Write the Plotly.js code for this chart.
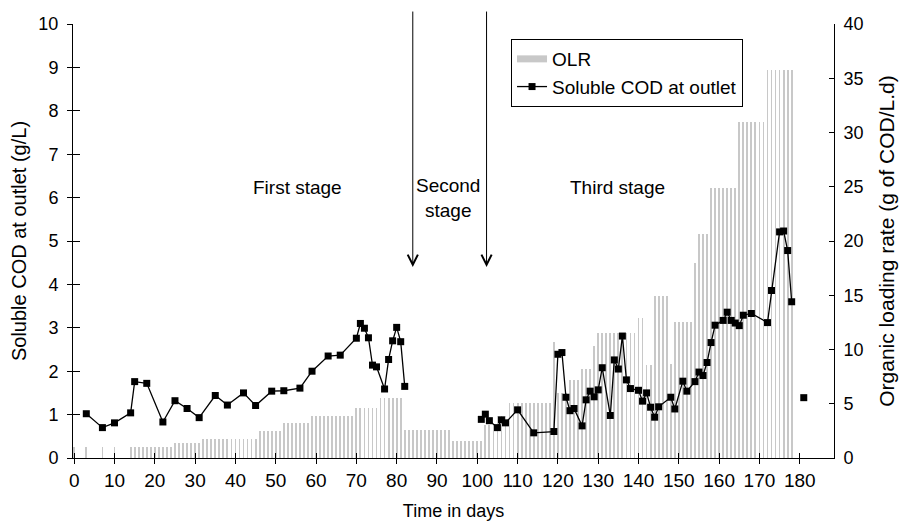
<!DOCTYPE html>
<html><head><meta charset="utf-8">
<script src="https://cdn.plot.ly/plotly-3.0.1.min.js"></script>
<style>html,body{margin:0;padding:0;background:#fff}#chart{width:903px;height:522px}</style>
</head><body><div id="chart"></div>
<script>
// Organic loading rate (g of COD/L.d), one bar per day
const olrDays = [
  0, 3, 7, 10,
  14, 15, 16, 17, 18, 19, 20, 21, 22, 23, 24,
  25, 26, 27, 28, 29, 30, 31,
  32, 33, 34, 35, 36, 37, 38, 39, 40, 41, 42, 43, 44, 45,
  46, 47, 48, 49, 50, 51,
  52, 53, 54, 55, 56, 57, 58,
  59, 60, 61, 62, 63, 64, 65, 66, 67, 68, 69,
  70, 71, 72, 73, 74, 75,
  76, 77, 78, 79, 80, 81,
  82, 83, 84, 85, 86, 87, 88, 89, 90, 91, 92, 93,
  94, 95, 96, 97, 98, 99, 100, 101,
  102, 103, 104,
  105, 106, 107,
  108, 109, 110, 111, 112, 113, 114, 115, 116, 117, 118,
  119,
  120, 121, 122,
  123, 124, 125,
  126, 127, 128,
  129,
  130, 131, 132, 133, 134, 135, 136, 137, 138, 139,
  140, 141,
  142, 143,
  144, 145, 146, 147,
  148,
  149, 150, 151, 152, 153,
  154,
  155, 156, 157,
  158, 159, 160, 161, 162, 163, 164,
  165, 166, 167, 168, 169, 170, 171,
  172, 173, 174, 175, 176, 177, 178
];
const olrRates = [
  1.0, 1.0, 1.0, 1.0,
  1.0, 1.0, 1.0, 1.0, 1.0, 1.0, 1.0, 1.0, 1.0, 1.0, 1.0,
  1.4, 1.4, 1.4, 1.4, 1.4, 1.4, 1.4,
  1.75, 1.75, 1.75, 1.75, 1.75, 1.75, 1.75, 1.75, 1.75, 1.75, 1.75, 1.75, 1.75, 1.75,
  2.5, 2.5, 2.5, 2.5, 2.5, 2.5,
  3.25, 3.25, 3.25, 3.25, 3.25, 3.25, 3.25,
  3.9, 3.9, 3.9, 3.9, 3.9, 3.9, 3.9, 3.9, 3.9, 3.9, 3.9,
  4.6, 4.6, 4.6, 4.6, 4.6, 4.6,
  5.55, 5.55, 5.55, 5.55, 5.55, 5.55,
  2.6, 2.6, 2.6, 2.6, 2.6, 2.6, 2.6, 2.6, 2.6, 2.6, 2.6, 2.6,
  1.55, 1.55, 1.55, 1.55, 1.55, 1.55, 1.55, 1.55,
  3.05, 3.05, 3.05,
  3.85, 3.85, 3.85,
  5.05, 5.05, 5.05, 5.05, 5.05, 5.05, 5.05, 5.05, 5.05, 5.05, 5.05,
  10.7,
  5.95, 5.95, 5.95,
  7.2, 7.2, 7.2,
  8.2, 8.2, 8.2,
  10.3,
  11.55, 11.55, 11.55, 11.55, 11.55, 11.55, 11.55, 11.55, 11.55, 11.55,
  12.9, 12.9,
  8.6, 8.6,
  14.9, 14.9, 14.9, 14.9,
  8.7,
  12.5, 12.5, 12.5, 12.5, 12.5,
  18.0,
  20.6, 20.6, 20.6,
  24.9, 24.9, 24.9, 24.9, 24.9, 24.9, 24.9,
  31.0, 31.0, 31.0, 31.0, 31.0, 31.0, 31.0,
  35.8, 35.8, 35.8, 35.8, 35.8, 35.8, 35.8
];

// Soluble COD at outlet (g/L); null marks a break in the line
const codDays = [
  3, 7, 10, 14, 15, 18, 22, 25, 28, 31,
  35, 38, 42, 45, 49, 52, 56, 59, 63, 66,
  70, 71, 72, 73, 74, 75, 77, 78, 79, 80,
  81, 82,
  90,
  101, 102, 103, 105, 106, 107, 110, 114, 119, 120,
  121, 122, 123, 124, 126, 127, 128, 129, 130, 131,
  133, 134, 135, 136, 137, 138, 140, 141, 142, 143,
  144, 145, 148, 149, 151, 152, 154, 155, 156, 157,
  158, 159, 161, 162, 163, 164, 165, 166, 168, 172,
  173, 175, 176, 177, 178,
  180,
  181
];
const codValues = [
  1.02, 0.70, 0.81, 1.04, 1.76, 1.72, 0.83, 1.32, 1.14, 0.93,
  1.44, 1.22, 1.50, 1.21, 1.54, 1.55, 1.61, 2.00, 2.35, 2.37,
  2.76, 3.10, 2.99, 2.77, 2.14, 2.10, 1.59, 2.27, 2.70, 3.01,
  2.68, 1.65,
  null,
  0.89, 1.01, 0.86, 0.70, 0.88, 0.81, 1.11, 0.58, 0.61, 2.39,
  2.43, 1.40, 1.09, 1.14, 0.74, 1.34, 1.54, 1.41, 1.57, 2.08,
  0.98, 2.26, 2.05, 2.81, 1.80, 1.60, 1.56, 1.31, 1.50, 1.17,
  0.94, 1.18, 1.40, 1.13, 1.77, 1.54, 1.76, 1.98, 1.90, 2.20,
  2.66, 3.06, 3.17, 3.36, 3.17, 3.11, 3.05, 3.29, 3.33, 3.12,
  3.86, 5.21, 5.23, 4.78, 3.60,
  null,
  1.39
];

const dayTicks = [0,10,20,30,40,50,60,70,80,90,100,110,120,130,140,150,160,170,180];
const codTicks = [0,1,2,3,4,5,6,7,8,9,10];
const olrTicks = [0,5,10,15,20,25,30,35,40];

const stageNames = ['First stage', 'Second<br>stage', 'Third stage'];
const stageX = [55.3, 92.7, 134.7];
const stageY = [6.24, 5.98, 6.24];
const arrowDays = [84.0, 102.3];

const FONT = 'Liberation Sans, Arial, sans-serif';
const NARROW = 'Liberation Sans Narrow, Liberation Sans, Arial, sans-serif';
const GRAY = '#c8c8c8';
const XR = [-0.3, 188.5];

const traces = [
  {type:'bar', x: olrDays, y: olrRates, xaxis:'x', yaxis:'y', width:0.45,
   marker:{color:GRAY, line:{width:0}}, showlegend:false, hoverinfo:'x+y', name:'OLR'},
  {type:'scatter', mode:'lines', x:[null], y:[null], xaxis:'x', yaxis:'y2',
   line:{color:GRAY, width:7}, name:'OLR'},
  {type:'scatter', mode:'lines+markers', x: codDays, y: codValues, xaxis:'x', yaxis:'y2',
   connectgaps:false, line:{color:'#000', width:1.3},
   marker:{symbol:'square', size:7, color:'#000'}, name:'Soluble COD at outlet'},
  {type:'scatter', mode:'markers', x:[null], y:[null], xaxis:'x2', yaxis:'y3', showlegend:false, hoverinfo:'skip'}
];

const annotations = [];
for (let i = 0; i < stageNames.length; i++) {
  annotations.push({xref:'x', yref:'y2', x: stageX[i], y: stageY[i], text: stageNames[i],
    showarrow:false, font:{family:FONT, size:19, color:'#000'}, xanchor:'center', yanchor:'middle'});
}
for (let i = 0; i < arrowDays.length; i++) {
  annotations.push({xref:'x', yref:'y2', x: arrowDays[i], y: 4.4, text:'', showarrow:true,
    axref:'pixel', ayref:'pixel', ax:0, ay:-257, arrowhead:5, arrowsize:2, arrowwidth:1,
    arrowcolor:'#000', standoff:0});
}

const layout = {
  width:903, height:522,
  margin:{l:73, r:69, t:24, b:64},
  paper_bgcolor:'#fff', plot_bgcolor:'rgba(0,0,0,0)',
  font:{family:FONT, size:19, color:'#000'},
  showlegend:true,
  legend:{x:0.5756, y:0.9654, xanchor:'left', yanchor:'top', bgcolor:'#fff',
    bordercolor:'#000', borderwidth:1, font:{family:FONT, size:19}, traceorder:'normal',
    tracegroupgap:0, itemwidth:30},
  bargap:0,
  xaxis:{range:XR, tickvals:dayTicks, ticks:'outside', ticklen:5, tickcolor:'#000',
    showline:true, linecolor:'#000', linewidth:1, showgrid:false, zeroline:false,
    tickfont:{family:NARROW, size:19}, anchor:'y',
    title:{text:'Time in days', font:{family:NARROW, size:18}, standoff:14}},
  xaxis2:{overlaying:'x', range:XR, tickvals:dayTicks, ticks:'inside', ticklen:5, tickcolor:'#000',
    showticklabels:false, showline:false, showgrid:false, zeroline:false, anchor:'y'},
  yaxis:{side:'right', range:[0,40], tickvals:olrTicks, ticks:'inside', ticklen:5, tickcolor:'#000',
    showline:true, linecolor:'#000', linewidth:1, showgrid:false, zeroline:false, anchor:'x',
    tickfont:{size:18}, ticklabelstandoff:5,
    title:{text:'Organic loading rate (g of COD/L.d)', font:{size:21}, standoff:16}},
  yaxis2:{overlaying:'y', side:'left', range:[0,10], tickvals:codTicks, ticks:'outside', ticklen:5,
    tickcolor:'#000', showline:true, linecolor:'#000', linewidth:1, showgrid:false, zeroline:false,
    anchor:'x', tickfont:{size:18}, ticklabelstandoff:5,
    title:{text:'Soluble COD at outlet (g/L)', font:{size:20}, standoff:6}},
  yaxis3:{overlaying:'y', side:'left', range:[0,10], tickvals:codTicks, ticks:'inside', ticklen:7,
    tickcolor:'#000', showticklabels:false, showline:false, showgrid:false, zeroline:false, anchor:'x'},
  annotations: annotations
};

Plotly.newPlot('chart', traces, layout, {staticPlot:true, displayModeBar:false});
</script>
</body></html>
